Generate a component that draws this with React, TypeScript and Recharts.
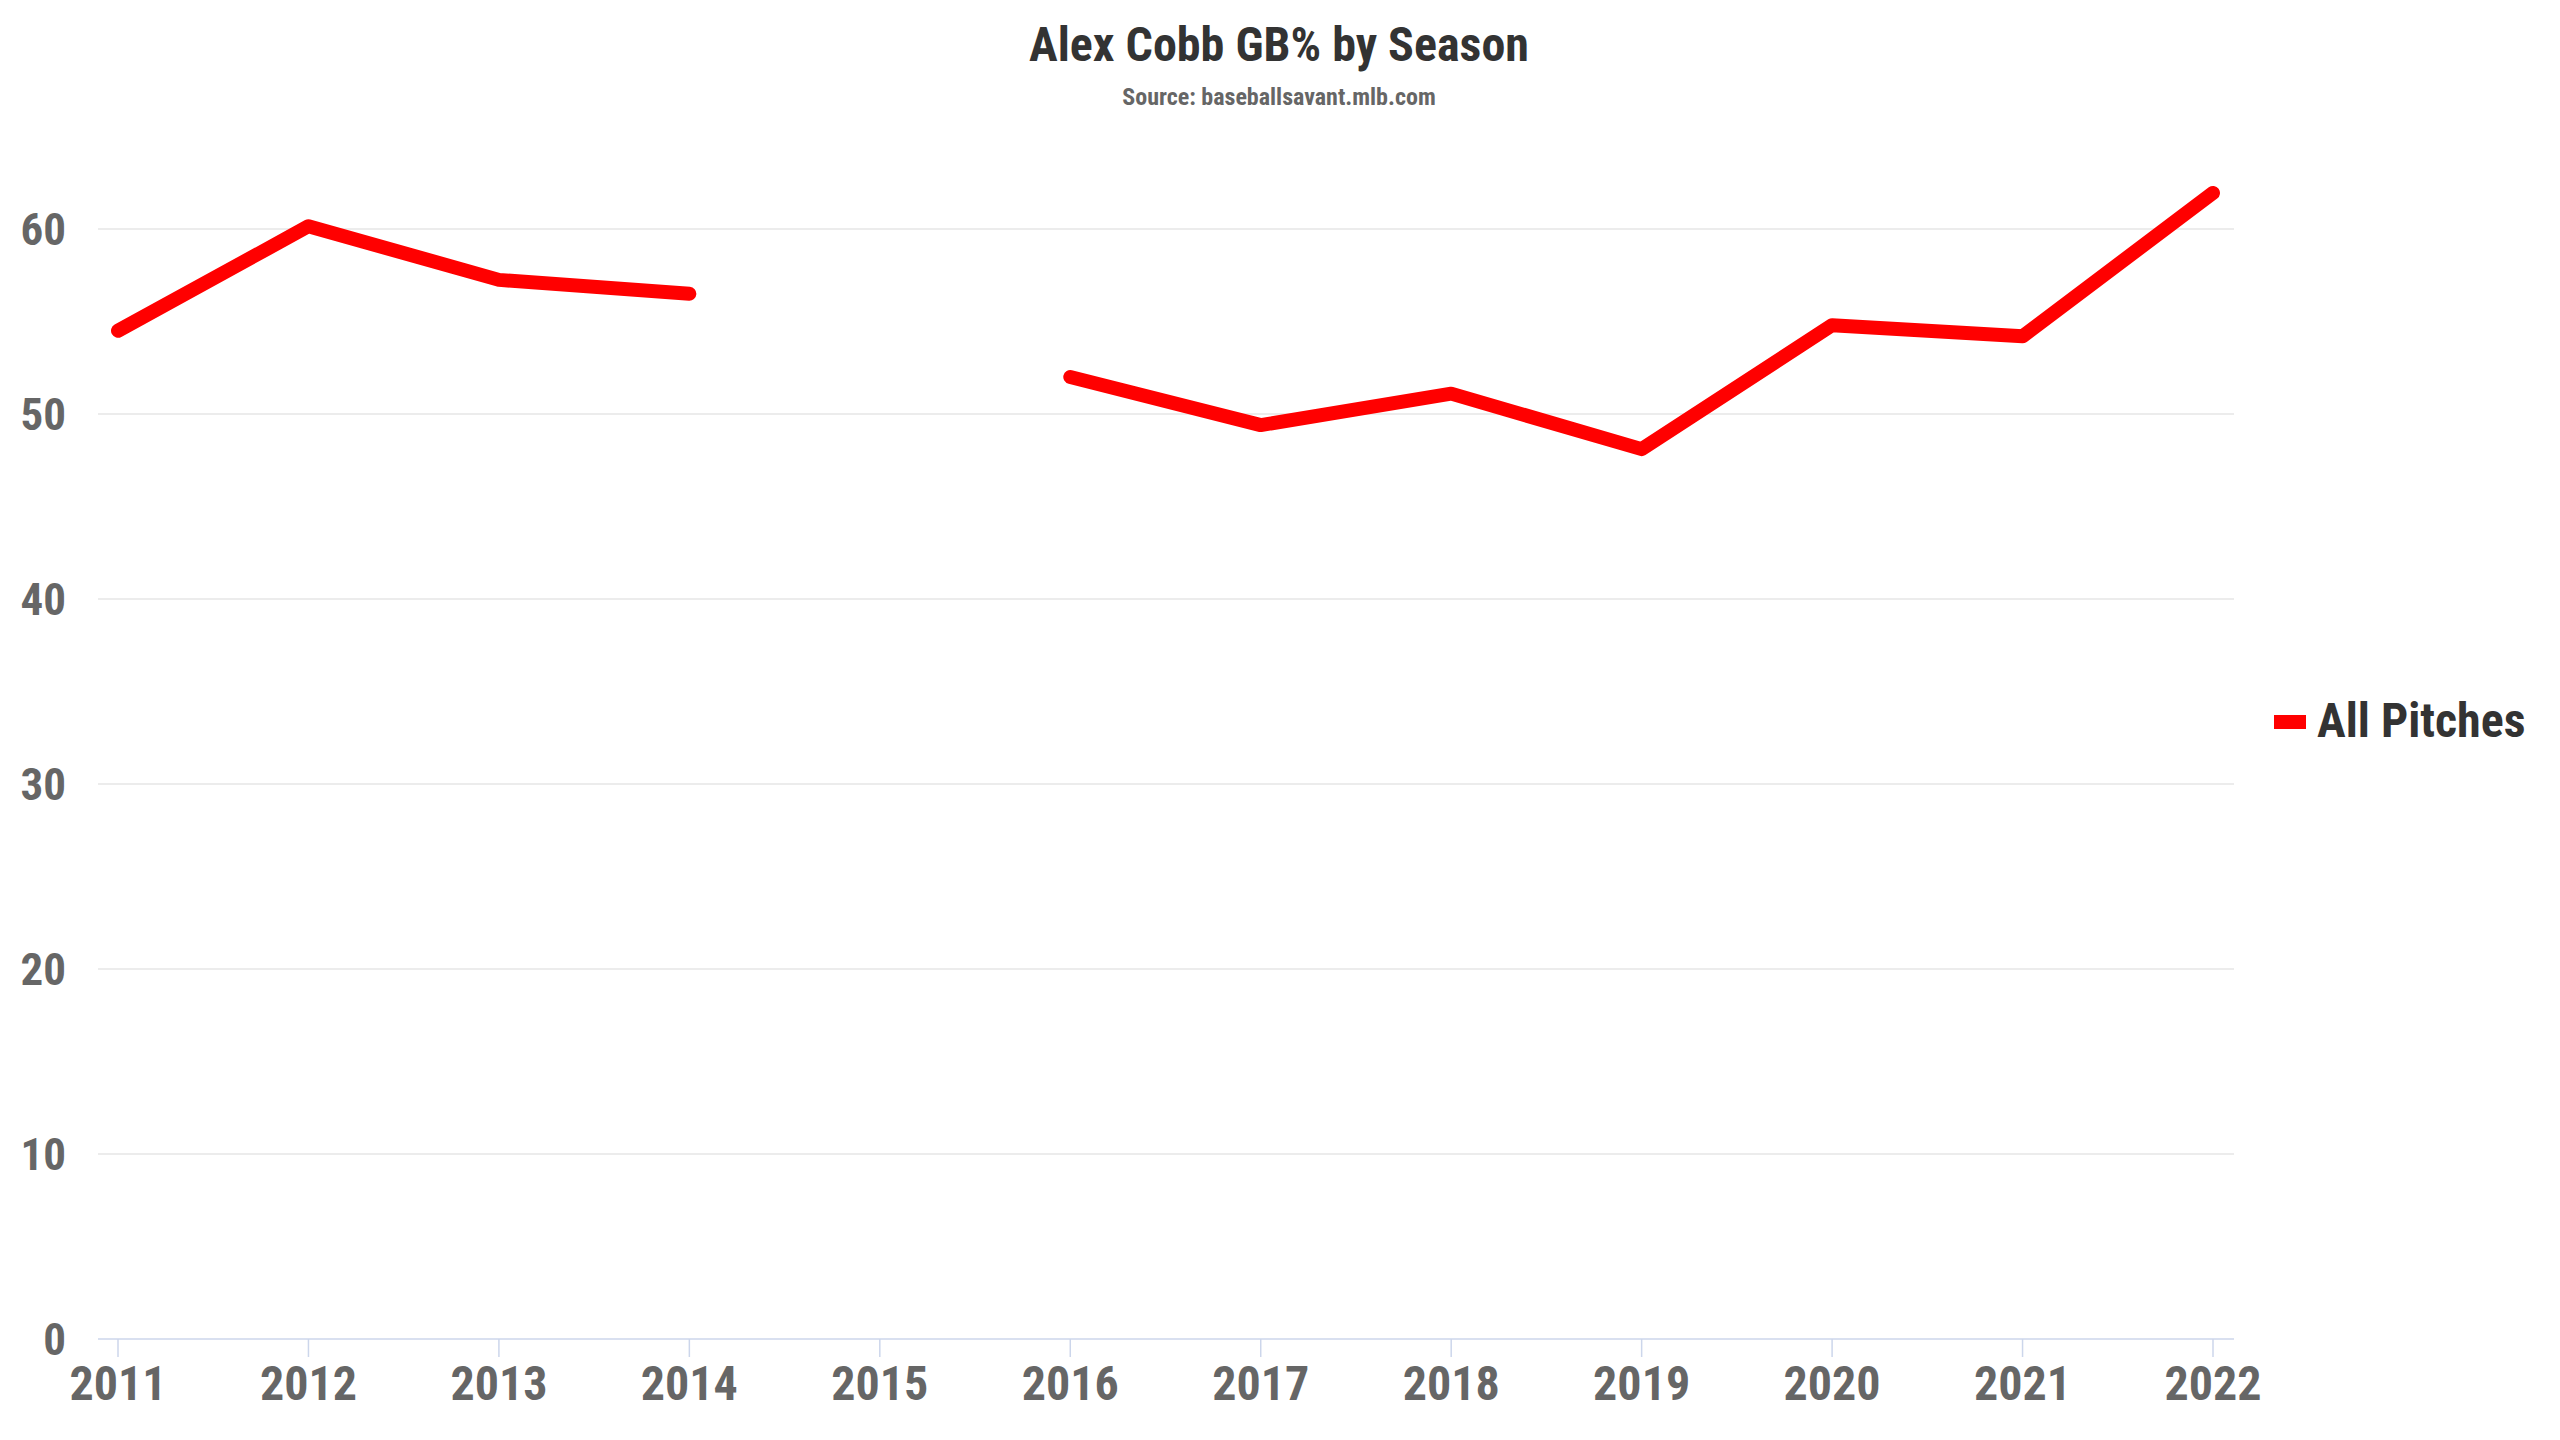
import React from "react";
import { LineChart, Line, XAxis, YAxis, CartesianGrid } from "recharts";

const years = ["2011", "2012", "2013", "2014", "2015", "2016", "2017", "2018", "2019", "2020", "2021", "2022"];
const gbPct: (number | null)[] = [54.5, 60.15, 57.25, 56.5, null, 52.0, 49.4, 51.1, 48.1, 54.8, 54.2, 61.95];
const yTicks = [0, 10, 20, 30, 40, 50, 60];
const seriesName = "All Pitches";
const titleText = "Alex Cobb GB% by Season";
const subtitleText = "Source: baseballsavant.mlb.com";

const data = years.map((y, i) => ({ year: y, gb: gbPct[i] }));

const FONT = "'Roboto Condensed', 'Roboto', sans-serif";
const W = 2544;
const H = 1424;

const gridYs = (props: any) => {
  const scale = props?.yAxis?.scale;
  if (!scale) return [];
  const f = (t: number) => {
    if (typeof scale === "function") return scale(t);
    if (typeof scale.map === "function") return scale.map(t);
    if (typeof scale.scale === "function") return scale.scale(t);
    return null;
  };
  return yTicks
    .filter((t) => t > 0)
    .map(f)
    .filter((v) => typeof v === "number" && !isNaN(v));
};

export default function App() {
  return (
    <div style={{ position: "relative", width: W, height: H, fontFamily: FONT, background: "#fff" }}>
      <LineChart
        width={W}
        height={H}
        data={data}
        margin={{ top: 184, right: 318, bottom: 0, left: 0 }}
      >
        <CartesianGrid
          horizontal={true}
          vertical={false}
          stroke="#e6e6e6"
          strokeWidth={1.5}
          horizontalCoordinatesGenerator={gridYs}
        />
        <XAxis
          dataKey="year"
          type="category"
          interval={0}
          height={93}
          padding={{ left: 20, right: 21 }}
          axisLine={{ stroke: "#ccd6eb", strokeWidth: 1.5 }}
          tickLine={{ stroke: "#ccd6eb", strokeWidth: 1.5 }}
          tickSize={18}
          tickMargin={9}
          tick={{ fill: "#666666", fontSize: 48, fontWeight: 700, fontFamily: FONT }}
        />
        <YAxis
          type="number"
          domain={[0, 62]}
          ticks={yTicks}
          width={90}
          axisLine={false}
          tickLine={false}
          tickSize={0}
          tickMargin={32}
          tick={{ fill: "#666666", fontSize: 45, fontWeight: 700, fontFamily: FONT }}
        />
        <Line
          type="linear"
          dataKey="gb"
          name={seriesName}
          stroke="#ff0000"
          strokeWidth={14}
          strokeLinecap="round"
          strokeLinejoin="round"
          dot={false}
          activeDot={false}
          connectNulls={false}
          isAnimationActive={false}
        />
      </LineChart>
      <svg
        width={W}
        height={H}
        style={{ position: "absolute", left: 0, top: 0, pointerEvents: "none" }}
      >
        <text x={1271} y={53} textAnchor="middle" fontFamily={FONT} fontWeight={700} fontSize={48} fill="#333333">
          {titleText}
        </text>
        <text x={1271} y={97} textAnchor="middle" fontFamily={FONT} fontWeight={700} fontSize={24} fill="#666666">
          {subtitleText}
        </text>
        <rect x={2266} y={707} width={32} height={14} fill="#ff0000" />
        <text x={2309} y={729} fontFamily={FONT} fontWeight={700} fontSize={48} fill="#333333">
          {seriesName}
        </text>
      </svg>
    </div>
  );
}
